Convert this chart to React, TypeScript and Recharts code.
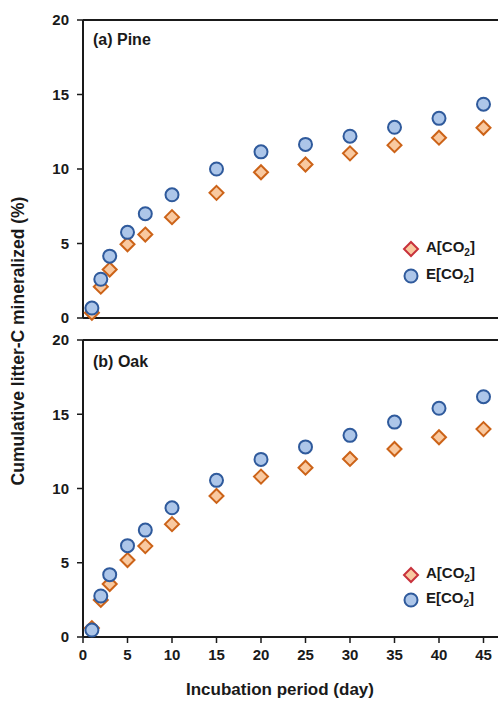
import React from "react";
import {
  ScatterChart,
  Scatter,
  XAxis,
  YAxis,
  ReferenceLine
} from "recharts";

const days = [1, 2, 3, 5, 7, 10, 15, 20, 25, 30, 35, 40, 45];
const pineA = [0.35, 2.1, 3.25, 4.95, 5.6, 6.77, 8.4, 9.78, 10.3, 11.05, 11.6, 12.1, 12.77];
const pineE = [0.67, 2.6, 4.15, 5.75, 7.0, 8.27, 10.0, 11.15, 11.65, 12.2, 12.8, 13.4, 14.35];
const oakA = [0.6, 2.5, 3.57, 5.18, 6.12, 7.6, 9.5, 10.8, 11.4, 11.99, 12.66, 13.45, 14.0];
const oakE = [0.47, 2.76, 4.2, 6.15, 7.2, 8.7, 10.55, 11.96, 12.8, 13.58, 14.47, 15.4, 16.18];
const xTicks = [0, 5, 10, 15, 20, 25, 30, 35, 40, 45];
const yTicks = [0, 5, 10, 15, 20];

const font = "'Liberation Sans', Arial, sans-serif";
const ink = "#1a1a1a";

const toPoints = (vals: number[]) => days.map((d, i) => ({ x: d, y: vals[i] }));

const Circle = (p: any) => (
  <circle cx={p.cx} cy={p.cy} r={6.5} fill="#adc6e9" stroke="#2f5a9c" strokeWidth={2} />
);

const Diamond = (p: any) => (
  <polygon
    points={`${p.cx},${p.cy - 7} ${p.cx + 7},${p.cy} ${p.cx},${p.cy + 7} ${p.cx - 7},${p.cy}`}
    fill="#f9c9a0"
    stroke="#cc6318"
    strokeWidth={2}
  />
);

// legend drawn as a small overlay so it does not shrink the plot
function LegendBox(props: { left: number; top: number; gap: number }) {
  const row: React.CSSProperties = { display: "flex", alignItems: "center", height: props.gap };
  return (
    <div
      style={{
        position: "absolute",
        left: props.left,
        top: props.top,
        fontFamily: font,
        fontWeight: "bold",
        fontSize: 15,
        color: ink,
        lineHeight: 1
      }}
    >
      <div style={row}>
        <svg width={18} height={18}>
          <polygon points="9,2 16,9 9,16 2,9" fill="#f9c9a0" stroke="#c8323c" strokeWidth={2} />
        </svg>
        <span style={{ marginLeft: 6 }}>
          A[CO<sub style={{ fontSize: 10 }}>2</sub>]
        </span>
      </div>
      <div style={row}>
        <svg width={18} height={18}>
          <circle cx={9} cy={9} r={6.5} fill="#adc6e9" stroke="#2f5a9c" strokeWidth={2} />
        </svg>
        <span style={{ marginLeft: 6 }}>
          E[CO<sub style={{ fontSize: 10 }}>2</sub>]
        </span>
      </div>
    </div>
  );
}

const tickStyle = { fontFamily: font, fontWeight: "bold" as const, fontSize: 15, fill: ink };

function Panel(props: { a: number[]; e: number[]; showX: boolean; height: number }) {
  const { a, e, showX, height } = props;
  return (
    <ScatterChart width={540} height={height} margin={{ top: 20, right: 12, bottom: showX ? 0 : 11, left: 0 }}>
      <XAxis
        type="number"
        dataKey="x"
        domain={[0, 50]}
        ticks={xTicks}
        height={showX ? 64 : 1}
        tick={showX ? tickStyle : false}
        tickLine={showX ? { stroke: ink, strokeWidth: 1.5 } : false}
        tickSize={6}
        tickMargin={6}
        axisLine={{ stroke: ink, strokeWidth: 2 }}
      />
      <YAxis
        type="number"
        dataKey="y"
        domain={[0, 20]}
        ticks={yTicks}
        width={83}
        tick={tickStyle}
        tickSize={6}
        tickMargin={8}
        tickLine={{ stroke: ink, strokeWidth: 1.5 }}
        axisLine={{ stroke: ink, strokeWidth: 2 }}
      />
      <ReferenceLine y={20} stroke={ink} strokeWidth={2} />
      <Scatter data={toPoints(a)} shape={Diamond} isAnimationActive={false} />
      <Scatter data={toPoints(e)} shape={Circle} isAnimationActive={false} />
    </ScatterChart>
  );
}

const labelStyle: React.CSSProperties = {
  position: "absolute",
  fontFamily: font,
  fontWeight: "bold",
  fontSize: 16,
  color: ink
};

export default function App() {
  return (
    <div style={{ position: "absolute", left: 0, top: 0, width: 498, height: 701, overflow: "hidden", background: "#fff" }}>
      <div style={{ position: "absolute", left: 0, top: 0 }}>
        <Panel a={pineA} e={pineE} showX={false} height={330} />
      </div>
      <div style={{ position: "absolute", left: 0, top: 320 }}>
        <Panel a={oakA} e={oakE} showX={true} height={381} />
      </div>
      <LegendBox left={402} top={235} gap={27} />
      <LegendBox left={402} top={562} gap={25} />
      <div style={{ ...labelStyle, left: 93, top: 31 }}>(a) Pine</div>
      <div style={{ ...labelStyle, left: 93, top: 353 }}>(b) Oak</div>
      <div style={{ ...labelStyle, left: 0, top: 680, width: 560, textAlign: "center", fontSize: 17 }}>
        Incubation period (day)
      </div>
      <div
        style={{
          ...labelStyle,
          fontSize: 17.5,
          left: 18,
          top: 341,
          whiteSpace: "nowrap",
          transform: "translate(-50%, -50%) rotate(-90deg)"
        }}
      >
        Cumulative litter-C mineralized (%)
      </div>
    </div>
  );
}
